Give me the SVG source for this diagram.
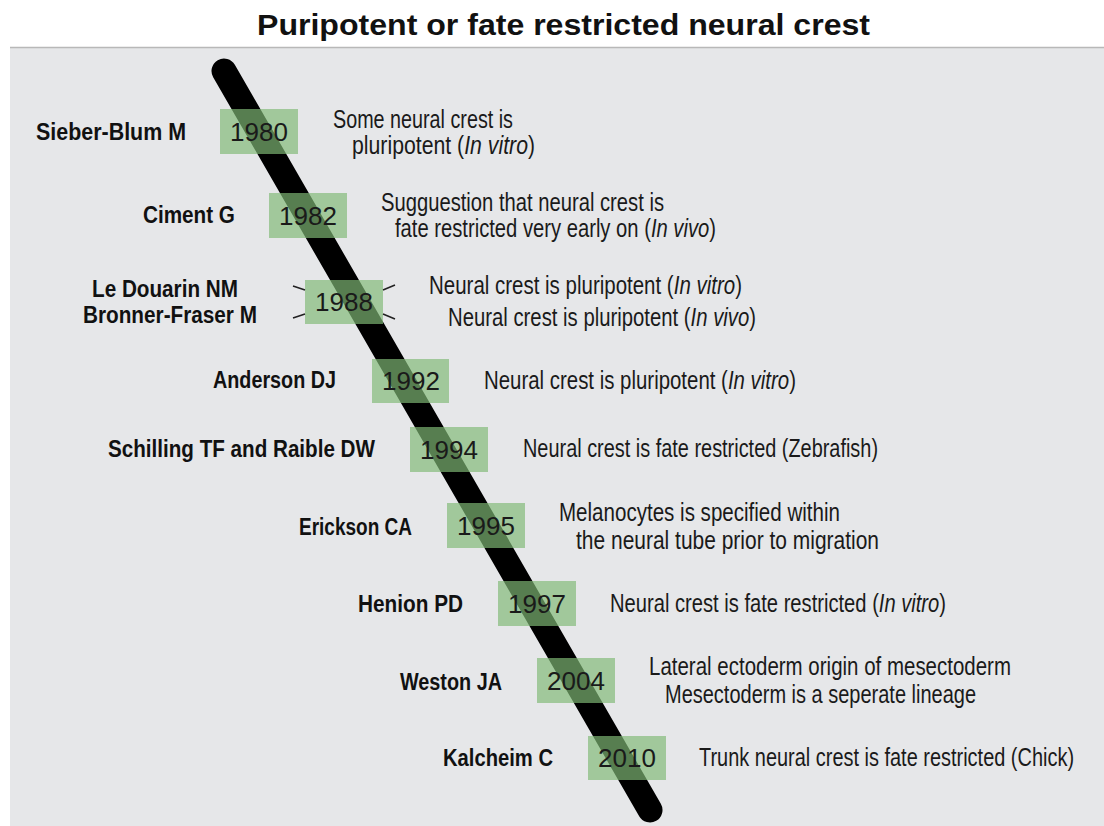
<svg xmlns="http://www.w3.org/2000/svg" width="1104" height="826" viewBox="0 0 1104 826">
<style>
.title{font-family:"Liberation Sans",Arial,sans-serif;font-weight:bold;font-size:30px;fill:#111}
.name{font-family:"Liberation Sans",Arial,sans-serif;font-weight:bold;font-size:24px;fill:#111}
.desc{font-family:"Liberation Sans",Arial,sans-serif;font-size:25px;fill:#1a1a1a}
.it{font-style:italic}
.year{font-family:"Liberation Sans",Arial,sans-serif;font-size:26px;fill:#1a1a1a;text-anchor:middle}
.box{fill:rgb(128,185,118);fill-opacity:0.68}
.tick{stroke:#222;stroke-width:1.6;fill:none}
</style>
<rect x="0" y="0" width="1104" height="826" fill="#ffffff"/>
<rect x="10" y="47" width="1094" height="779" fill="#e6e7e9"/>
<line x1="10" y1="47.5" x2="1104" y2="47.5" stroke="#b8b8b8" stroke-width="1.5"/>
<text class="title" x="257" y="35" textLength="613" lengthAdjust="spacingAndGlyphs">Puripotent or fate restricted neural crest</text>

<g id="connectors">
<line x1="224" y1="71" x2="650" y2="810" stroke="#000" stroke-width="25" stroke-linecap="round"/>
</g>

<g id="n1980">
<rect class="box" x="220" y="109" width="78" height="45"/>
<text class="year" x="259" y="141">1980</text>
<text class="name" transform="translate(36,140) scale(0.88,1)" textLength="170.5" lengthAdjust="spacingAndGlyphs">Sieber-Blum M</text>
<text class="desc" transform="translate(333,128) scale(0.81,1)" textLength="222.2" lengthAdjust="spacingAndGlyphs">Some neural crest is</text>
<text class="desc" transform="translate(352,154) scale(0.81,1)" textLength="138.5" lengthAdjust="spacingAndGlyphs">pluripotent (</text>
<text class="desc it" transform="translate(464.2,154) scale(0.81,1)" textLength="78.8" lengthAdjust="spacingAndGlyphs">In vitro</text>
<text class="desc" transform="translate(528,154) scale(0.81,1)" textLength="8.6" lengthAdjust="spacingAndGlyphs">)</text>
</g>

<g id="n1982">
<rect class="box" x="269" y="193" width="78" height="45"/>
<text class="year" x="308" y="225">1982</text>
<text class="name" transform="translate(143,223) scale(0.88,1)" textLength="104.5" lengthAdjust="spacingAndGlyphs">Ciment G</text>
<text class="desc" transform="translate(381,211) scale(0.81,1)" textLength="349.4" lengthAdjust="spacingAndGlyphs">Sugguestion that neural crest is</text>
<text class="desc" transform="translate(395,237) scale(0.81,1)" textLength="315.9" lengthAdjust="spacingAndGlyphs">fate restricted very early on (</text>
<text class="desc it" transform="translate(650.9,237) scale(0.81,1)" textLength="72.1" lengthAdjust="spacingAndGlyphs">In vivo</text>
<text class="desc" transform="translate(709.3,237) scale(0.81,1)" textLength="8.3" lengthAdjust="spacingAndGlyphs">)</text>
</g>

<g id="n1988">
<rect class="box" x="305" y="280" width="78" height="44"/>
<text class="year" x="344" y="311">1988</text>
<path class="tick" d="M293 286 L305 290 M293 318 L305 314 M383 290 L395 285 M383 314 L395 319"/>
<text class="name" transform="translate(92,297) scale(0.88,1)" textLength="165.9" lengthAdjust="spacingAndGlyphs">Le Douarin NM</text>
<text class="name" transform="translate(83,323) scale(0.88,1)" textLength="197.7" lengthAdjust="spacingAndGlyphs">Bronner-Fraser M</text>
<text class="desc" transform="translate(429,294) scale(0.81,1)" textLength="302.1" lengthAdjust="spacingAndGlyphs">Neural crest is pluripotent (</text>
<text class="desc it" transform="translate(673.7,294) scale(0.81,1)" textLength="75.9" lengthAdjust="spacingAndGlyphs">In vitro</text>
<text class="desc" transform="translate(735.2,294) scale(0.81,1)" textLength="8.4" lengthAdjust="spacingAndGlyphs">)</text>
<text class="desc" transform="translate(448,326) scale(0.81,1)" textLength="299.5" lengthAdjust="spacingAndGlyphs">Neural crest is pluripotent (</text>
<text class="desc it" transform="translate(690.6,326) scale(0.81,1)" textLength="72.5" lengthAdjust="spacingAndGlyphs">In vivo</text>
<text class="desc" transform="translate(749.3,326) scale(0.81,1)" textLength="8.3" lengthAdjust="spacingAndGlyphs">)</text>
</g>

<g id="n1992">
<rect class="box" x="372" y="359" width="77" height="44"/>
<text class="year" x="411" y="390">1992</text>
<text class="name" transform="translate(213,388) scale(0.88,1)" textLength="139.8" lengthAdjust="spacingAndGlyphs">Anderson DJ</text>
<text class="desc" transform="translate(484,389) scale(0.81,1)" textLength="301.1" lengthAdjust="spacingAndGlyphs">Neural crest is pluripotent (</text>
<text class="desc it" transform="translate(727.9,389) scale(0.81,1)" textLength="75.7" lengthAdjust="spacingAndGlyphs">In vitro</text>
<text class="desc" transform="translate(789.2,389) scale(0.81,1)" textLength="8.4" lengthAdjust="spacingAndGlyphs">)</text>
</g>

<g id="n1994">
<rect class="box" x="410" y="427" width="78" height="45"/>
<text class="year" x="449" y="459">1994</text>
<text class="name" transform="translate(108,457) scale(0.88,1)" textLength="303.4" lengthAdjust="spacingAndGlyphs">Schilling TF and Raible DW</text>
<text class="desc" transform="translate(523,457) scale(0.81,1)" textLength="438.3" lengthAdjust="spacingAndGlyphs">Neural crest is fate restricted (Zebrafish)</text>
</g>

<g id="n1995">
<rect class="box" x="447" y="503" width="78" height="45"/>
<text class="year" x="486" y="535">1995</text>
<text class="name" transform="translate(299,535) scale(0.88,1)" textLength="128.4" lengthAdjust="spacingAndGlyphs">Erickson CA</text>
<text class="desc" transform="translate(559,521) scale(0.81,1)" textLength="346.9" lengthAdjust="spacingAndGlyphs">Melanocytes is specified within</text>
<text class="desc" transform="translate(576,549) scale(0.81,1)" textLength="374.1" lengthAdjust="spacingAndGlyphs">the neural tube prior to migration</text>
</g>

<g id="n1997">
<rect class="box" x="498" y="581" width="78" height="45"/>
<text class="year" x="537" y="613">1997</text>
<text class="name" transform="translate(358,612) scale(0.88,1)" textLength="119.3" lengthAdjust="spacingAndGlyphs">Henion PD</text>
<text class="desc" transform="translate(610,612) scale(0.81,1)" textLength="331.9" lengthAdjust="spacingAndGlyphs">Neural crest is fate restricted (</text>
<text class="desc it" transform="translate(878.8,612) scale(0.81,1)" textLength="74.7" lengthAdjust="spacingAndGlyphs">In vitro</text>
<text class="desc" transform="translate(939.3,612) scale(0.81,1)" textLength="8.3" lengthAdjust="spacingAndGlyphs">)</text>
</g>

<g id="n2004">
<rect class="box" x="537" y="658" width="78" height="45"/>
<text class="year" x="576" y="690">2004</text>
<text class="name" transform="translate(400,690) scale(0.88,1)" textLength="115.9" lengthAdjust="spacingAndGlyphs">Weston JA</text>
<text class="desc" transform="translate(649,675) scale(0.81,1)" textLength="446.9" lengthAdjust="spacingAndGlyphs">Lateral ectoderm origin of mesectoderm</text>
<text class="desc" transform="translate(665,703) scale(0.81,1)" textLength="384.0" lengthAdjust="spacingAndGlyphs">Mesectoderm is a seperate lineage</text>
</g>

<g id="n2010">
<rect class="box" x="588" y="736" width="78" height="44"/>
<text class="year" x="627" y="767">2010</text>
<text class="name" transform="translate(443,766) scale(0.88,1)" textLength="125" lengthAdjust="spacingAndGlyphs">Kalcheim C</text>
<text class="desc" transform="translate(699,766) scale(0.81,1)" textLength="463.0" lengthAdjust="spacingAndGlyphs">Trunk neural crest is fate restricted (Chick)</text>
</g>
</svg>
